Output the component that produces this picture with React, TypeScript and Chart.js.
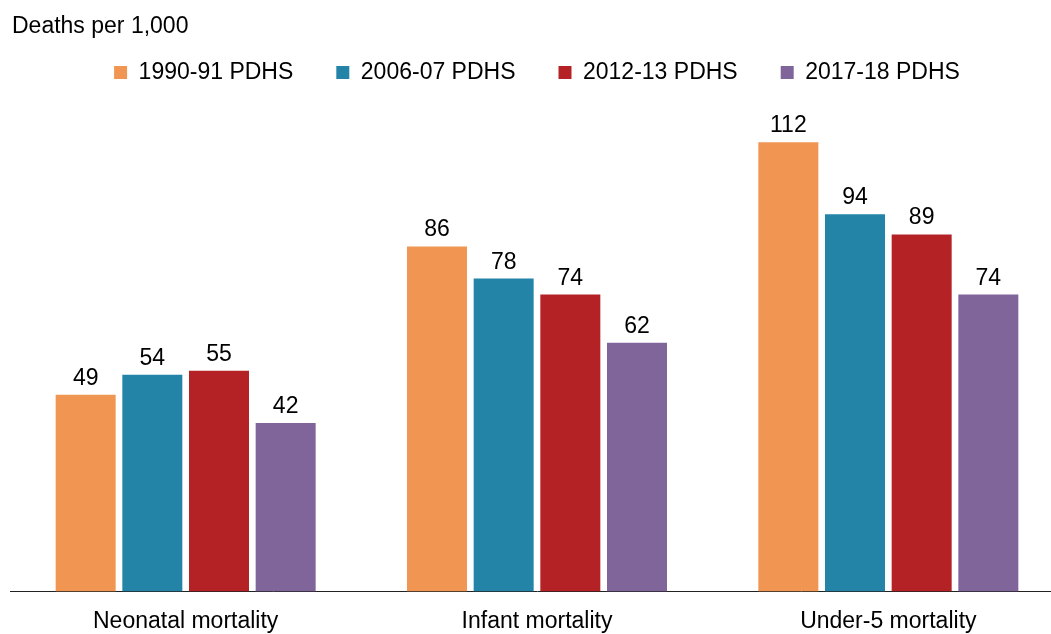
import React, { useEffect, useRef } from "react";
import { Chart, registerables } from "chart.js";

Chart.register(...registerables);

const categories = ["Neonatal mortality", "Infant mortality", "Under-5 mortality"];
const seriesNames = ["1990-91 PDHS", "2006-07 PDHS", "2012-13 PDHS", "2017-18 PDHS"];
const values1990 = [49, 86, 112];
const values2006 = [54, 78, 94];
const values2012 = [55, 74, 89];
const values2017 = [42, 62, 74];
const seriesColors = ["#F09652", "#2384A8", "#B42226", "#80659B"];
const yTitle = "Deaths per 1,000";

const FONT = "'Liberation Sans', Arial, sans-serif";
const FS = 23;

const labelsPlugin = {
  id: "customLabels",
  afterDatasetsDraw(chart: any) {
    const ctx = chart.ctx;
    ctx.save();
    ctx.font = `${FS}px ${FONT}`;
    ctx.fillStyle = "#000";
    ctx.textAlign = "center";
    ctx.textBaseline = "alphabetic";
    chart.data.datasets.forEach((ds: any, i: number) => {
      const meta = chart.getDatasetMeta(i);
      meta.data.forEach((bar: any, j: number) => {
        ctx.fillText(String(ds.data[j]), bar.x, bar.y - 10);
      });
    });
    ctx.textAlign = "left";
    ctx.fillText(yTitle, 4, 25);
    ctx.restore();
  },
};

export default function App() {
  const ref = useRef<HTMLCanvasElement>(null);
  useEffect(() => {
    document.documentElement.style.overflow = "hidden";
    document.body.style.overflow = "hidden";
    const dataSets = [values1990, values2006, values2012, values2017];
    const chart = new Chart(ref.current!, {
      type: "bar",
      data: {
        labels: categories,
        datasets: dataSets.map((d, i) => ({
          label: seriesNames[i],
          data: d,
          backgroundColor: seriesColors[i],
          borderWidth: 0,
          barPercentage: 0.9,
          categoryPercentage: 0.759,
        })),
      },
      options: {
        responsive: false,
        animation: false,
        layout: { padding: { top: 10, left: 2, right: 0, bottom: 0 } },
        plugins: {
          legend: {
            position: "top",
            align: "center",
            labels: {
              boxWidth: 13,
              boxHeight: 13,
              padding: 43,
              color: "#000",
              font: { family: FONT, size: FS },
            },
          },
          title: { display: false },
          tooltip: { enabled: false },
        },
        scales: {
          x: {
            grid: { display: false, drawTicks: false },
            border: { display: true, color: "#222", width: 1 },
            ticks: { color: "#000", padding: 16, font: { family: FONT, size: FS } },
          },
          y: {
            display: false,
            min: 0,
            max: 124,
          },
        },
      },
      plugins: [labelsPlugin],
    });
    return () => chart.destroy();
  }, []);
  return (
    <div style={{ position: "fixed", left: 8, top: 8, width: 1043, height: 626, overflow: "hidden" }}>
      <canvas ref={ref} width={1056} height={643} style={{ display: "block" }} />
    </div>
  );
}
